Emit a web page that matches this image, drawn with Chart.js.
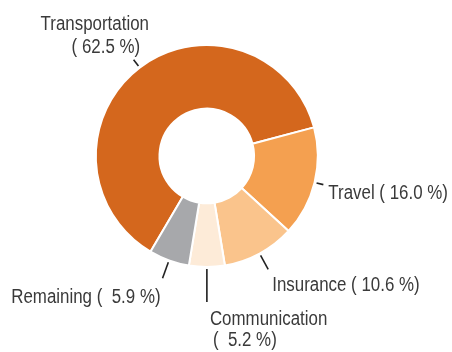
<!DOCTYPE html>
<html>
<head>
<meta charset="utf-8">
<script src="https://cdn.jsdelivr.net/npm/chart.js@4.4.0/dist/chart.umd.min.js"></script>
<style>
  html, body { margin: 0; padding: 0; background: #fff; }
  #wrap { width: 452px; height: 352px; }
</style>
</head>
<body>
<div id="wrap"><canvas id="costChart" width="452" height="352"></canvas></div>
<script>
// expense shares, in percent
const categories = ['Transportation', 'Travel', 'Insurance', 'Communication', 'Remaining'];
const shares = [62.5, 16.0, 10.6, 5.2, 5.9];
const sliceColors = ['#D4671D', '#F4A050', '#FAC48C', '#FDEBD8', '#A7A8AB'];

// label layout: leader length past the rim, and where each text line sits from the leader end
const labelLayout = [
    { len: 8,  lines: [{ dx: -93, dy: -30, align: 'left', split: 0 }, { dx: -62, dy: -7, align: 'left', split: 1 }] },
    { len: 7,  lines: [{ dx: 5, dy: 14, align: 'left', split: -1 }] },
    { len: 16, lines: [{ dx: 4, dy: 22, align: 'left', split: -1 }] },
    { len: 33, lines: [{ dx: 3, dy: 23, align: 'left', split: 0 }, { dx: 6, dy: 44, align: 'left', split: 1 }] },
    { len: 17, lines: [{ dx: -2, dy: 25, align: 'right', split: -1 }] }
];

// no narrow face installed, so squeeze the regular one
const textSqueeze = 0.845;

function pctText(v) {
    return '( ' + v.toFixed(1).padStart(4, ' ') + ' %)';
}

const leaderLabels = {
    id: 'leaderLabels',
    afterDraw(chart) {
        const ctx = chart.ctx;
        const arcs = chart.getDatasetMeta(0).data;
        ctx.save();
        ctx.font = '20px "Liberation Sans", Arial, sans-serif';
        ctx.fillStyle = '#3a3a3a';
        ctx.strokeStyle = '#222';
        ctx.lineWidth = 1.6;
        ctx.textBaseline = 'alphabetic';
        arcs.forEach((arc, i) => {
            const p = arc.getProps(['x', 'y', 'startAngle', 'endAngle', 'outerRadius'], true);
            const mid = (p.startAngle + p.endAngle) / 2;
            const r0 = p.outerRadius + 2;
            const r1 = r0 + labelLayout[i].len;
            const x0 = p.x + Math.cos(mid) * r0, y0 = p.y + Math.sin(mid) * r0;
            const x1 = p.x + Math.cos(mid) * r1, y1 = p.y + Math.sin(mid) * r1;
            ctx.beginPath();
            ctx.moveTo(x0, y0);
            ctx.lineTo(x1, y1);
            ctx.stroke();
            const parts = [categories[i], pctText(shares[i])];
            labelLayout[i].lines.forEach(l => {
                const txt = l.split < 0 ? parts.join(' ') : parts[l.split];
                ctx.save();
                ctx.translate(x1 + l.dx, y1 + l.dy);
                ctx.scale(textSqueeze, 1);
                ctx.textAlign = l.align;
                ctx.fillText(txt, 0, 0);
                ctx.restore();
            });
        });
        ctx.restore();
    }
};

new Chart(document.getElementById('costChart'), {
    type: 'doughnut',
    data: {
        labels: categories,
        datasets: [{
            data: shares,
            backgroundColor: sliceColors,
            borderColor: '#ffffff',
            borderWidth: 2
        }]
    },
    options: {
        responsive: false,
        animation: false,
        rotation: 210.5,
        radius: 111,
        cutout: 49,
        layout: { padding: { left: 80, right: 118.4, top: 40, bottom: 80 } },
        plugins: {
            legend: { display: false },
            tooltip: { enabled: false }
        }
    },
    plugins: [leaderLabels]
});
</script>
</body>
</html>
